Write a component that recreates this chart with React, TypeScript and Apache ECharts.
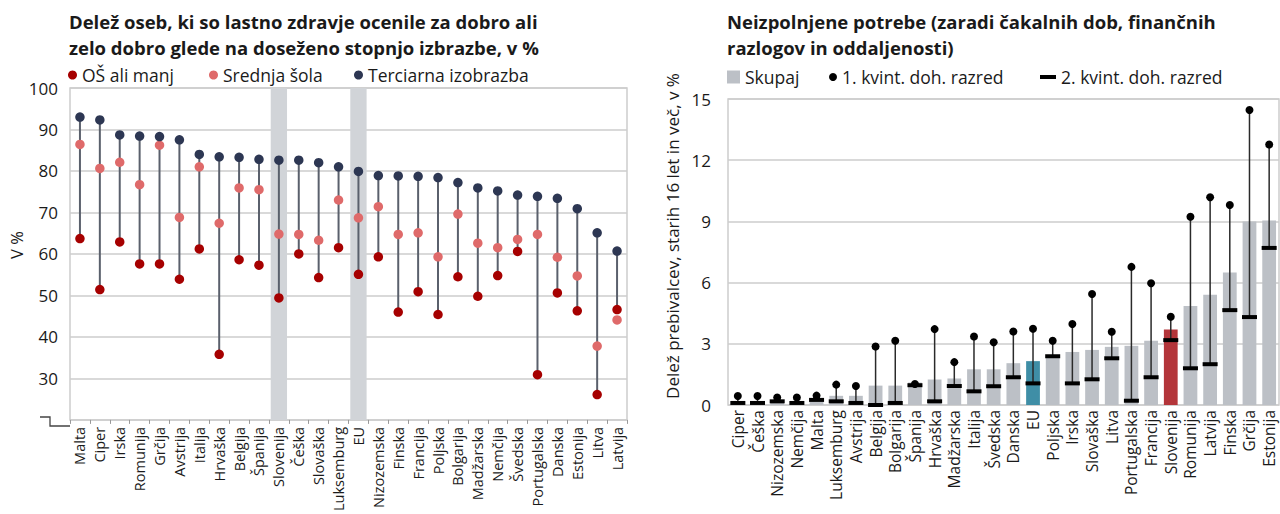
import React, { useEffect, useRef } from "react";
import * as echarts from "echarts";

const leftCats = ["Malta","Ciper","Irska","Romunija","Grčija","Avstrija","Italija","Hrvaška","Belgija","Španija","Slovenija","Češka","Slovaška","Luksemburg","EU","Nizozemska","Finska","Francija","Poljska","Bolgarija","Madžarska","Nemčija","Švedska","Portugalska","Danska","Estonija","Litva","Latvija"];
const primaryEdu = [63.7,51.4,62.9,57.6,57.6,53.9,61.2,35.8,58.6,57.3,49.4,60.0,54.3,61.5,55.1,59.3,46.0,50.9,45.4,54.5,49.8,54.8,60.6,30.9,50.6,46.3,26.1,46.6];
const secondaryEdu = [86.4,80.6,82.1,76.7,86.2,68.8,81.0,67.4,75.9,75.5,64.8,64.7,63.3,73.0,68.7,71.4,64.7,65.1,59.3,69.6,62.6,61.5,63.5,64.7,59.2,54.7,37.8,44.1];
const tertiaryEdu = [93.0,92.3,88.7,88.4,88.3,87.5,84.0,83.4,83.3,82.8,82.6,82.6,82.0,81.0,79.9,78.9,78.8,78.7,78.4,77.2,75.9,75.2,74.2,73.9,73.4,70.9,65.1,60.7];
const leftHighlight = ["Slovenija", "EU"];
const leftTicks = [20, 30, 40, 50, 60, 70, 80, 90, 100];

const rightCats = ["Ciper","Češka","Nizozemska","Nemčija","Malta","Luksemburg","Avstrija","Belgija","Bolgarija","Španija","Hrvaška","Madžarska","Italija","Švedska","Danska","EU","Poljska","Irska","Slovaška","Litva","Portugalska","Francija","Slovenija","Romunija","Latvija","Finska","Grčija","Estonija"];
const totalNeed = [0.1,0.1,0.2,0.1,0.3,0.45,0.45,0.95,0.95,1.1,1.25,1.3,1.75,1.75,2.05,2.15,2.4,2.6,2.7,2.85,2.9,3.15,3.7,4.85,5.4,6.5,9.0,9.05];
const q1Need = [0.44,0.44,0.37,0.37,0.46,1.0,0.93,2.87,3.15,1.03,3.72,2.1,3.36,3.08,3.6,3.74,3.15,3.97,5.44,3.59,6.77,5.97,4.33,9.23,10.18,9.8,14.46,12.77];
const q2Need = [0.1,0.1,0.18,0.1,0.25,0.18,0.1,0.0,0.1,0.97,0.18,0.93,0.67,0.92,1.36,1.06,2.39,1.06,1.26,2.29,0.21,1.36,3.18,1.8,2.0,4.65,4.31,7.7];

const FONT = "'Open Sans', 'Noto Sans', sans-serif";
const TXT = "#1a1a1a";
const NAVY = "#2d3753";
const DARKRED = "#a60000";
const PINK = "#df6a6a";
const BARGREY = "#bcc0c6";
const TEAL = "#3f8ea6";
const SLORED = "#b3353a";
const GRID = "#cdcdcd";

export default function App() {
  const ref = useRef<HTMLDivElement>(null);
  useEffect(() => {
    const chart = echarts.init(ref.current!, null, { renderer: "svg" });
    const legendText = { fontFamily: FONT, fontSize: 17.5, color: TXT, lineHeight: 18 };
    const titleStyle = { fontFamily: FONT, fontSize: 18.5, fontWeight: "bold", color: TXT, lineHeight: 25.5 };
    const leg = (name: string, left: number, top: number, icon: string, w: number, h: number) => ({
      data: [name], left, top, icon, itemWidth: w, itemHeight: h, padding: 0, textStyle: legendText,
    });
    const option: any = {
      animation: false,
      backgroundColor: "#fff",
      textStyle: { fontFamily: FONT },
      title: [
        {
          text: "Delež oseb, ki so lastno zdravje ocenile za dobro ali\nzelo dobro glede na doseženo stopnjo izbrazbe, v %",
          left: 69, top: 9, padding: 0, textStyle: titleStyle,
        },
        {
          text: "Neizpolnjene potrebe (zaradi čakalnih dob, finančnih\nrazlogov in oddaljenosti)",
          left: 727, top: 9, padding: 0, textStyle: titleStyle,
        },
      ],
      legend: [
        leg("OŠ ali manj", 68, 66, "circle", 9, 9),
        leg("Srednja šola", 209, 66, "circle", 9, 9),
        leg("Terciarna izobrazba", 354, 66, "circle", 9, 9),
        leg("Skupaj", 727, 68, "rect", 13, 13),
        leg("1. kvint. doh. razred", 829, 68, "circle", 8, 8),
        leg("2. kvint. doh. razred", 1040, 68, "rect", 16, 4),
      ],
      grid: [
        { left: 70, top: 88, width: 557, height: 338, show: true, borderColor: GRID, borderWidth: 1.5 },
        { left: 728, top: 99, width: 551, height: 306, show: true, borderColor: GRID, borderWidth: 1.5 },
      ],
      xAxis: [
        {
          type: "category", gridIndex: 0, data: leftCats,
          axisLine: { show: false },
          axisTick: { show: true, interval: 0, length: 4, lineStyle: { color: "#999" } },
          axisLabel: { rotate: 90, interval: 0, fontFamily: FONT, fontSize: 14.5, color: TXT, margin: 7 },
        },
        {
          type: "category", gridIndex: 1, data: rightCats,
          axisLine: { show: false },
          axisTick: { show: false },
          axisLabel: { rotate: 90, interval: 0, fontFamily: FONT, fontSize: 15.5, color: TXT, margin: 5 },
        },
      ],
      yAxis: [
        {
          type: "value", gridIndex: 0, min: leftTicks[0], max: leftTicks[leftTicks.length - 1], interval: 10,
          axisLine: { show: false }, axisTick: { show: false },
          splitLine: { lineStyle: { color: GRID, width: 1.5 } },
          axisLabel: { fontFamily: FONT, fontSize: 17, color: TXT, margin: 12, formatter: (v: number) => (v === leftTicks[0] ? "" : String(v)) },
        },
        {
          type: "value", gridIndex: 1, min: 0, max: 15, interval: 3,
          axisLine: { show: false }, axisTick: { show: false },
          splitLine: { lineStyle: { color: GRID, width: 1.5 } },
          axisLabel: { fontFamily: FONT, fontSize: 17, color: TXT, margin: 17 },
        },
      ],
      graphic: [
        { type: "polyline", shape: { points: [[40, 417], [50, 417], [50, 426], [70, 426]] }, style: { stroke: "#444", lineWidth: 1.3, fill: "none" } },
        {
          type: "text", x: 16, y: 245, rotation: Math.PI / 2,
          style: { text: "V %", fontFamily: FONT, fontSize: 16.5, fill: TXT, align: "center", verticalAlign: "middle" },
        },
        {
          type: "text", x: 672, y: 236, rotation: Math.PI / 2,
          style: { text: "Delež prebivalcev, starih 16 let in več, v %", fontFamily: FONT, fontSize: 17, fill: TXT, align: "center", verticalAlign: "middle" },
        },
      ],
      series: [
        {
          type: "bar", xAxisIndex: 0, yAxisIndex: 0, barWidth: "82%", silent: true, z: 1,
          itemStyle: { color: "#d1d4d8" },
          data: leftCats.map((c) => (leftHighlight.includes(c) ? leftTicks[leftTicks.length - 1] : null)),
        },
        {
          type: "custom", xAxisIndex: 0, yAxisIndex: 0, z: 2,
          encode: { x: 0, y: [1, 2] },
          data: leftCats.map((c, i) => [i, primaryEdu[i], tertiaryEdu[i]]),
          renderItem: (params: any, api: any) => {
            const a = api.coord([api.value(0), api.value(1)]);
            const b = api.coord([api.value(0), api.value(2)]);
            return { type: "line", shape: { x1: a[0], y1: a[1], x2: b[0], y2: b[1] }, style: { stroke: "#5a606c", lineWidth: 2 } };
          },
        },
        { name: "OŠ ali manj", type: "scatter", xAxisIndex: 0, yAxisIndex: 0, z: 3, symbolSize: 9.5, itemStyle: { color: DARKRED, opacity: 1 }, data: primaryEdu },
        { name: "Srednja šola", type: "scatter", xAxisIndex: 0, yAxisIndex: 0, z: 3, symbolSize: 9.5, itemStyle: { color: PINK, opacity: 1 }, data: secondaryEdu },
        { name: "Terciarna izobrazba", type: "scatter", xAxisIndex: 0, yAxisIndex: 0, z: 3, symbolSize: 9.5, itemStyle: { color: NAVY, opacity: 1 }, data: tertiaryEdu },

        {
          name: "Skupaj", type: "bar", xAxisIndex: 1, yAxisIndex: 1, barWidth: "70%", z: 1,
          itemStyle: { color: BARGREY },
          data: rightCats.map((c, i) => ({
            value: totalNeed[i],
            itemStyle: { color: c === "EU" ? TEAL : c === "Slovenija" ? SLORED : BARGREY },
          })),
        },
        {
          type: "custom", xAxisIndex: 1, yAxisIndex: 1, z: 2,
          encode: { x: 0, y: [1, 2] },
          data: rightCats.map((c, i) => [i, q2Need[i], q1Need[i]]),
          renderItem: (params: any, api: any) => {
            const a = api.coord([api.value(0), api.value(1)]);
            const b = api.coord([api.value(0), api.value(2)]);
            return { type: "line", shape: { x1: a[0], y1: a[1], x2: b[0], y2: b[1] }, style: { stroke: "#2a2a2a", lineWidth: 1.5 } };
          },
        },
        { name: "2. kvint. doh. razred", type: "scatter", xAxisIndex: 1, yAxisIndex: 1, z: 3, symbol: "rect", symbolSize: [15, 4], itemStyle: { color: "#000", opacity: 1 }, data: q2Need },
        { name: "1. kvint. doh. razred", type: "scatter", xAxisIndex: 1, yAxisIndex: 1, z: 4, symbol: "circle", symbolSize: 8, itemStyle: { color: "#000", opacity: 1 }, data: q1Need },
      ],
    };
    chart.setOption(option);
    return () => chart.dispose();
  }, []);
  return <div ref={ref} style={{ position: "fixed", left: 0, top: 0, width: 1280, height: 514, background: "#fff" }} />;
}
